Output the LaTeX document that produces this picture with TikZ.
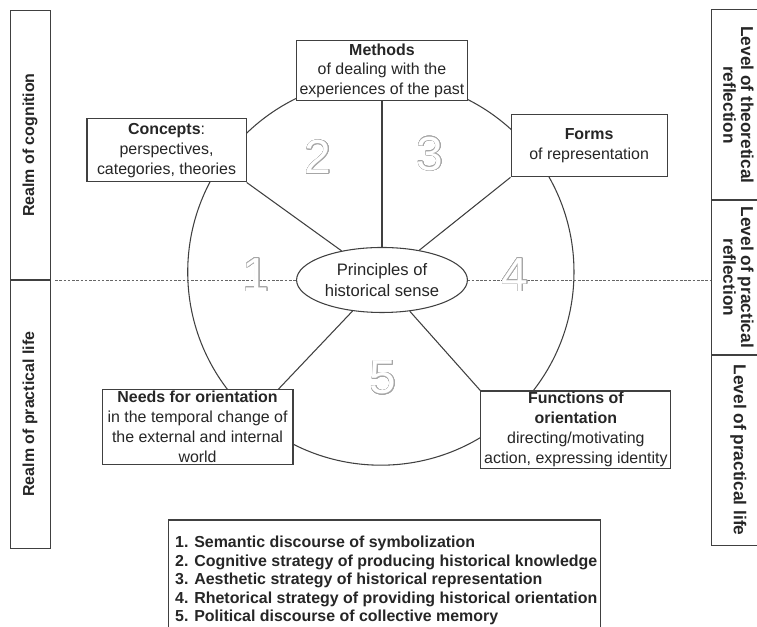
\documentclass[tikz,border=0pt]{standalone}
\usepackage{fontspec}
\setmainfont{Liberation Sans}
\usepackage{contour}
\contourlength{0.35pt}
\contournumber{24}
\usetikzlibrary{positioning, shapes.geometric, fit, backgrounds}

\newcommand{\hollowdigit}[1]{\contour{black!35}{\textcolor{white}{#1}}}

\begin{document}
\begin{tikzpicture}
    % Styles
    \tikzset{
        block/.style={rectangle, draw=black!75, line width=0.8pt, fill=white, text=black!85, align=center, inner sep=1pt, font=\fontsize{12}{15}\selectfont},
        hub_ellipse/.style={ellipse, draw=black!75, line width=0.8pt, fill=white, text=black!85, align=center, inner sep=0pt, minimum width=4.52cm, minimum height=1.72cm, font=\fontsize{12.5}{16}\selectfont},
        side_cell/.style={rectangle, draw=black!75, line width=0.8pt, text=black!85, align=center, inner sep=0pt, font=\bfseries\fontsize{12}{13.5}\selectfont},
        big_digit/.style={inner sep=0pt, font=\fontsize{36}{36}\selectfont},
        spoke/.style={draw=black!75, line width=0.8pt},
        container/.style={draw=black!75, line width=0.8pt, inner sep=0pt},
        label_text/.style={align=left, inner sep=0pt, text=black!85, font=\bfseries\fontsize{12}{13.9}\selectfont}
    }

    \useasboundingbox (-10.107,-9.181) rectangle (9.922,7.408);

    % --- Nodes ---

    % Centre: Principles
    \node[hub_ellipse] (principles) at (0,0) {Principles of\\historical sense};

    % Top box: Methods
    \node[block, above=3.85cm of principles, minimum width=4.52cm, minimum height=1.59cm] (methods) {\textbf{Methods}\\of dealing with the\\experiences of the past};

    % Upper boxes: Concepts and Forms
    \node[block, minimum width=4.21cm, minimum height=1.67cm] (concepts) at (-5.70,3.43) {\textbf{Concepts}:\\perspectives,\\categories, theories};
    \node[block, minimum width=4.13cm, minimum height=1.64cm] (forms) at (5.48,3.55) {\textbf{Forms}\\of representation};

    % Lower boxes: Needs and Functions
    \node[block, minimum width=5.05cm, minimum height=1.96cm] (needs) at (-4.88,-3.89) {\textbf{Needs for orientation}\\in the temporal change of\\the external and internal\\world};
    \node[block, minimum width=5.03cm, minimum height=1.93cm] (functions) at (5.13,-3.96) {\textbf{Functions of}\\\textbf{orientation}\\directing/motivating\\action, expressing identity};

    % Sector numbers
    \node[big_digit] (num1) at (-3.33,0.13) {\hollowdigit{1}};
    \node[big_digit] (num2) at (-1.69,3.25) {\hollowdigit{2}};
    \node[big_digit] (num3) at (1.27,3.33) {\hollowdigit{3}};
    \node[big_digit] (num4) at (3.52,0.13) {\hollowdigit{4}};
    \node[big_digit] (num5) at (0.03,-2.59) {\hollowdigit{5}};

    % Left bar: realms
    \node[side_cell, rotate=90, minimum width=7.14cm, minimum height=1.06cm] (realm_cog) at (-9.31,3.57) {Realm of cognition};
    \node[side_cell, rotate=90, minimum width=7.09cm, minimum height=1.06cm] (realm_life) at (-9.31,-3.55) {Realm of practical life};

    % Right bar: levels
    \node[side_cell, rotate=-90, minimum width=5.03cm, minimum height=1.40cm, font=\bfseries\fontsize{13}{13.5}\selectfont] (lvl_theo) at (9.43,4.63) {Level of theoretical\\reflection};
    \node[side_cell, rotate=-90, minimum width=4.10cm, minimum height=1.40cm, font=\bfseries\fontsize{13}{13.5}\selectfont] (lvl_refl) at (9.43,0.07) {Level of practical\\reflection};
    \node[side_cell, rotate=-90, minimum width=5.03cm, minimum height=1.40cm, font=\bfseries\fontsize{13}{13.5}\selectfont] (lvl_life) at (9.43,-4.50) {Level of practical life};

    % Legend
    \coordinate (legend_tl) at (-5.64,-6.35);
    \coordinate (legend_br) at (5.77,-9.60);
    \node[label_text, anchor=north west] (legend) at (-5.48,-6.77) {1. Semantic discourse of symbolization\\2. Cognitive strategy of producing historical knowledge\\3. Aesthetic strategy of historical representation\\4. Rhetorical strategy of providing historical orientation\\5. Political discourse of collective memory};

    % --- Connections ---
    \coordinate (dash_l) at (-8.65,0);
    \coordinate (hub) at (-0.03,0.21);

    \begin{scope}[on background layer]
        % Dividing line between the realms
        \draw[black!60, line width=0.6pt, dash pattern=on 2pt off 1.2pt] (dash_l) -- (dash_l -| lvl_refl.south);

        % Outer circle
        \draw[spoke] (hub) circle[radius=5.11cm];

        % Spokes from the centre
        \draw[spoke] (principles) -- (methods);
        \draw[spoke] (principles) -- (concepts.south east);
        \draw[spoke] (principles) -- (forms.south west);
        \draw[spoke] (principles) -- (needs.25);
        \draw[spoke] (principles) -- (functions.north west);

        % Legend frame
        \node[container, fit=(legend_tl) (legend_br)] (legend_box) {};
    \end{scope}

\end{tikzpicture}
\end{document}
